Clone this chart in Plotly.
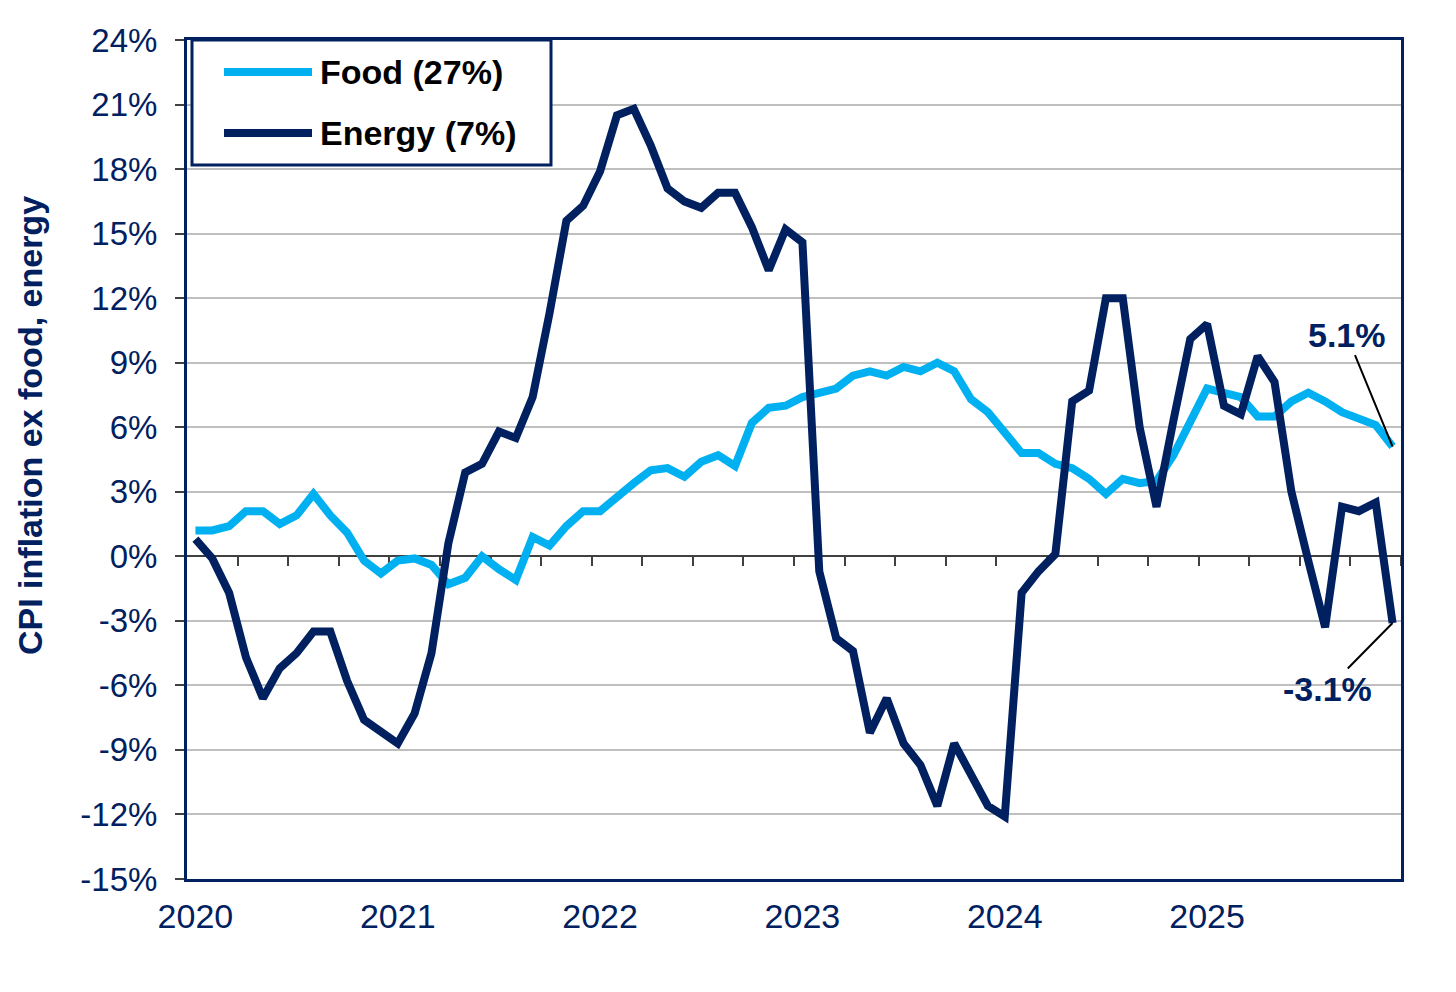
import numpy as np
import plotly.graph_objects as go

# ---------------- data ----------------
months = [f"{y}-{m:02d}" for y in range(2020, 2026) for m in range(1, 13)]
year_labels = ["2020", "2021", "2022", "2023", "2024", "2025"]

food = [1.2, 1.2, 1.4, 2.1, 2.1, 1.5, 1.9, 2.9, 1.9, 1.1, -0.2, -0.8,
        -0.2, -0.1, -0.4, -1.3, -1.0, 0.0, -0.6, -1.1, 0.9, 0.5, 1.4, 2.1,
        2.1, 2.8, 3.4, 4.0, 4.1, 3.7, 4.4, 4.7, 4.2, 6.2, 6.9, 7.0,
        7.4, 7.6, 7.8, 8.4, 8.6, 8.4, 8.8, 8.6, 9.0, 8.6, 7.3, 6.7,
        5.7, 4.8, 4.8, 4.3, 4.1, 3.6, 2.9, 3.6, 3.4, 3.5, 4.7, 6.3,
        7.8, 7.6, 7.4, 6.5, 6.5, 7.2, 7.6, 7.2, 6.7, 6.4, 6.1, 5.1]

energy = [0.8, -0.1, -1.7, -4.7, -6.6, -5.2, -4.5, -3.5, -3.5, -5.8, -7.6, -8.2,
          -8.7, -7.3, -4.5, 0.6, 3.9, 4.3, 5.8, 5.5, 7.4, 11.3, 15.6, 16.3,
          17.9, 20.5, 20.8, 19.1, 17.1, 16.5, 16.2, 16.9, 16.9, 15.3, 13.3, 15.2,
          14.6, -0.7, -3.8, -4.4, -8.2, -6.6, -8.7, -9.7, -11.6, -8.7, -10.2, -11.6,
          -12.1, -1.7, -0.7, 0.1, 7.2, 7.7, 12.0, 12.0, 6.0, 2.3, 6.3, 10.1,
          10.8, 7.0, 6.6, 9.3, 8.1, 3.0, -0.2, -3.3, 2.3, 2.1, 2.5, -3.1]

series_names = ["Food (27%)", "Energy (7%)"]
y_title = "CPI inflation ex food, energy"

Y_MIN, Y_MAX, Y_STEP = -15, 24, 3
y_tickvals = list(range(Y_MIN, Y_MAX + 1, Y_STEP))
y_ticktext = [f"{v}%" for v in y_tickvals]   # plain hyphen minus

# ---------------- style ----------------
FOOD_C = "#00B0F0"
ENERGY_C = "#002060"
NAVY = "#002060"
FONT = "Arial, Liberation Sans, sans-serif"

x_idx = np.arange(len(months))
X_MIN, X_MAX = -0.5, len(months) - 0.5

W, H = 1440, 976
ML, MR, MT, MB = 179, 47, 32, 105
PW, PH = W - ML - MR, H - MT - MB


def px(xp):  # screenshot pixel -> paper x
    return (xp - 8 - ML) / PW


def py(yp):  # screenshot pixel -> paper y
    return (H - MB - (yp - 8)) / PH


fig = go.Figure()
fig.add_trace(go.Scatter(x=x_idx, y=food, mode="lines", name=series_names[0],
                         line=dict(color=FOOD_C, width=8), showlegend=False))
fig.add_trace(go.Scatter(x=x_idx, y=energy, mode="lines", name=series_names[1],
                         line=dict(color=ENERGY_C, width=8), showlegend=False))
# carrier trace for the zero-line axis
fig.add_trace(go.Scatter(x=[], y=[], xaxis="x2", showlegend=False, hoverinfo="skip"))

fig.update_layout(
    width=W, height=H,
    margin=dict(l=ML, r=MR, t=MT, b=MB),
    paper_bgcolor="white", plot_bgcolor="white",
    font=dict(family=FONT, color=NAVY),
    xaxis=dict(
        range=[X_MIN, X_MAX],
        tickmode="array", tickvals=x_idx[::12], ticktext=year_labels,
        tickfont=dict(size=34, color=NAVY),
        ticks="", showgrid=False, zeroline=False,
        showline=True, mirror=True, linecolor=NAVY, linewidth=3,
        ticklabelstandoff=5,
    ),
    xaxis2=dict(
        overlaying="x", matches="x", anchor="free",
        position=(0 - Y_MIN) / (Y_MAX - Y_MIN),
        tickmode="array", tickvals=np.arange(2.5, len(months), 3),
        ticks="outside", ticklen=9, tickwidth=1.5, tickcolor="#404040",
        showticklabels=False, showgrid=False, zeroline=False,
        showline=True, linecolor="#404040", linewidth=2,
        layer="below traces",
    ),
    yaxis=dict(
        range=[Y_MIN, Y_MAX], tickmode="array",
        tickvals=y_tickvals, ticktext=y_ticktext,
        tickfont=dict(size=33, color=NAVY),
        ticks="outside", ticklen=9, tickwidth=1.5, tickcolor="#404040",
        showgrid=True, gridcolor="#BFBFBF", gridwidth=2,
        zeroline=False,
        showline=True, mirror=True, linecolor=NAVY, linewidth=3,
        ticklabelstandoff=11,
    ),
)

# y-axis title
fig.add_annotation(text=f"<b>{y_title}</b>", xref="paper", yref="paper",
                   x=px(30), y=py(426), textangle=-90, showarrow=False,
                   font=dict(size=34, color=NAVY, family=FONT),
                   xanchor="center", yanchor="middle")

# custom legend box
fig.add_shape(type="rect", xref="paper", yref="paper",
              x0=px(192), x1=px(551), y0=py(165), y1=py(40),
              line=dict(color=NAVY, width=3), fillcolor="white", layer="above")
for name, color, yp in [(series_names[0], FOOD_C, 72), (series_names[1], ENERGY_C, 133)]:
    fig.add_shape(type="line", xref="paper", yref="paper",
                  x0=px(224), x1=px(312), y0=py(yp), y1=py(yp),
                  line=dict(color=color, width=8), layer="above")
    fig.add_annotation(text=f"<b>{name}</b>", xref="paper", yref="paper",
                       x=px(318), y=py(yp), xanchor="left", yanchor="middle",
                       showarrow=False, font=dict(size=34, color="black", family=FONT))

# end-value labels
fig.add_annotation(x=x_idx[-1], y=food[-1], text=f"<b>{food[-1]:.1f}%</b>",
                   showarrow=True, arrowhead=0, arrowwidth=2, arrowcolor="black",
                   ax=-46, ay=-112, standoff=0,
                   font=dict(size=34, color=NAVY, family=FONT))
fig.add_annotation(x=x_idx[-1], y=energy[-1], text=f"<b>{energy[-1]:.1f}%</b>",
                   showarrow=True, arrowhead=0, arrowwidth=2, arrowcolor="black",
                   ax=-65, ay=66, standoff=0,
                   font=dict(size=34, color=NAVY, family=FONT))

fig.write_html("out.html")
